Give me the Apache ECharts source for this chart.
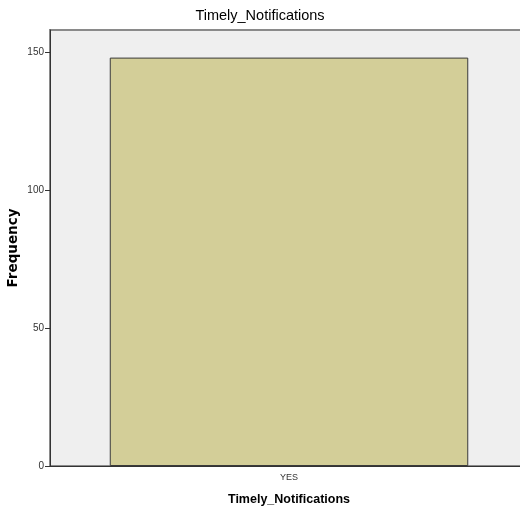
<!DOCTYPE html>
<html><head><meta charset="utf-8">
<script src="https://cdn.jsdelivr.net/npm/echarts@6/dist/echarts.min.js"></script>
<style>html,body{margin:0;padding:0;background:#fff}#c{width:520px;height:515px}</style>
</head><body><div id="c"></div>
<script>
const categories = ['YES'];
const frequency = [148];
const yTicks = [0, 50, 100, 150];

const chart = echarts.init(document.getElementById('c'), null, {renderer: 'canvas'});
chart.setOption({
  animation: false,
  backgroundColor: '#ffffff',
  title: {
    text: 'Timely_Notifications', left: 'center', top: 3,
    textStyle: {fontFamily: 'Liberation Sans, Arial', fontSize: 14.5, fontWeight: 'normal', color: '#000'}
  },
  grid: {
    left: 50, top: 30, right: -8, bottom: 49, show: true,
    outerBoundsMode: 'none', containLabel: false,
    backgroundColor: '#efefef', borderColor: '#8a8a8a', borderWidth: 2
  },
  xAxis: {
    type: 'category', data: categories,
    name: 'Timely_Notifications', nameLocation: 'middle', nameGap: 27, nameMoveOverlap: false,
    nameTextStyle: {fontFamily: 'Liberation Sans, Arial', fontSize: 12.5, fontWeight: 'bold', color: '#000'},
    axisLine: {lineStyle: {color: '#333', width: 1}},
    axisTick: {alignWithLabel: true, length: 5, lineStyle: {color: '#333'}},
    axisLabel: {fontFamily: 'Liberation Sans, Arial', fontSize: 9, color: '#333', margin: 7}
  },
  yAxis: {
    type: 'value', min: 0, max: 158,
    name: 'Frequency', nameLocation: 'middle', nameGap: 30, nameRotate: 90, nameMoveOverlap: false,
    nameTextStyle: {fontFamily: 'DejaVu Sans, Verdana', fontSize: 13.5, fontWeight: 'bold', color: '#000'},
    axisLine: {show: true, lineStyle: {color: '#333', width: 1}},
    axisTick: {show: true, length: 5, customValues: yTicks, lineStyle: {color: '#333'}},
    axisLabel: {customValues: yTicks, fontFamily: 'Liberation Sans, Arial', fontSize: 10, color: '#333', margin: 6},
    splitLine: {show: false}
  },
  series: [{
    type: 'bar', data: frequency, barCategoryGap: '25%',
    itemStyle: {color: '#d3ce98', borderColor: '#3a3a3a', borderWidth: 1}
  }]
});
</script></body></html>
